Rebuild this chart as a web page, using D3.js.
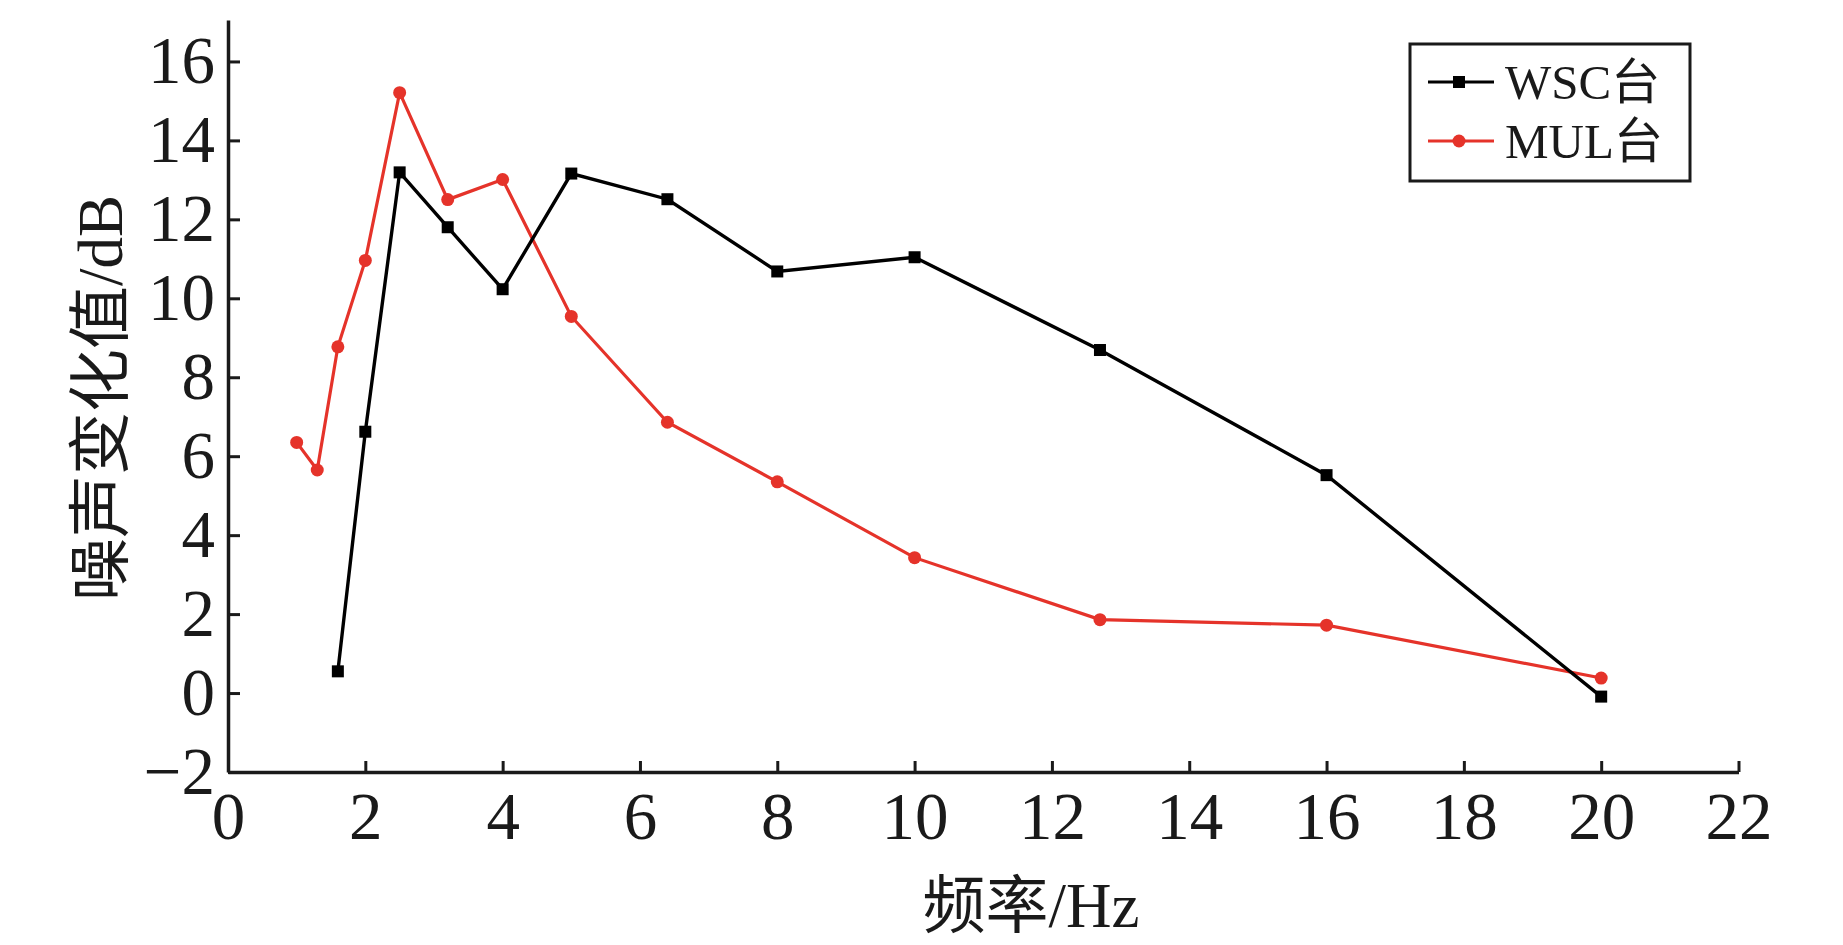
<!DOCTYPE html>
<html><head><meta charset="utf-8">
<script src="https://cdn.jsdelivr.net/npm/d3@7"></script>
<style>
html,body{margin:0;padding:0;background:#fff;}
svg{display:block;}
</style></head>
<body>
<svg id="chart" width="1843" height="945"></svg>
<script>
// ---- data ----
const wscFreq = [1.6, 2, 2.5, 3.2, 4, 5, 6.4, 8, 10, 12.7, 16, 20];
const wscValues = [0.55, 6.62, 13.19, 11.80, 10.23, 13.16, 12.51, 10.68, 11.04, 8.69, 5.52, -0.09];
const mulFreq = [1, 1.3, 1.6, 2, 2.5, 3.2, 4, 5, 6.4, 8, 10, 12.7, 16, 20];
const mulValues = [6.35, 5.65, 8.77, 10.96, 15.21, 12.50, 13.01, 9.54, 6.86, 5.35, 3.43, 1.86, 1.72, 0.38];
const xTicks = [0, 2, 4, 6, 8, 10, 12, 14, 16, 18, 20, 22];
const yTicks = [-2, 0, 2, 4, 6, 8, 10, 12, 14, 16];
const seriesNames = ["WSC台", "MUL台"];
const xTitle = "频率/Hz";
const yTitle = "噪声变化值/dB";

const RED = "#e5332a";
const numFont = "'Liberation Serif','Times New Roman',serif";
const cjkFont = "'Liberation Serif','Noto Sans CJK SC',serif";

const svg = d3.select("#chart");
const x = d3.scaleLinear().domain([0, 22]).range([228, 1738.5]);
const y = d3.scaleLinear().domain([-2, 17.05]).range([772, 20]);

// axes
const xAxis = d3.axisBottom(x).tickValues(xTicks).tickFormat(d3.format("d"))
  .tickSizeInner(-11).tickSizeOuter(0).tickPadding(19);
const yAxis = d3.axisLeft(y).tickValues(yTicks).tickFormat(d => d < 0 ? "\u2212" + Math.abs(d) : d)
  .tickSizeInner(-12).tickSizeOuter(0).tickPadding(13);

const gx = svg.append("g").attr("transform", `translate(0,${y(-2)})`).call(xAxis);
const gy = svg.append("g").attr("transform", `translate(${x(0)},0)`).call(yAxis);
[gx, gy].forEach(g => {
  g.select(".domain").attr("stroke", "#1a1a1a").attr("stroke-width", 3.5);
  g.selectAll(".tick line").attr("stroke", "#1a1a1a").attr("stroke-width", 3);
  g.selectAll(".tick text").attr("fill", "#1a1a1a")
    .style("font-family", numFont).style("font-size", "67px");
});

// titles
svg.append("text").attr("x", 1031).attr("y", 927).attr("text-anchor", "middle")
  .style("font-family", cjkFont).style("font-size", "63px").attr("fill", "#1a1a1a").text(xTitle);
svg.append("text").attr("transform", "translate(122,398) rotate(-90)").attr("text-anchor", "middle")
  .style("font-family", cjkFont).style("font-size", "63px").attr("fill", "#1a1a1a").text(yTitle);

// lines
const wsc = wscFreq.map((f, i) => ({x: f, y: wscValues[i]}));
const mul = mulFreq.map((f, i) => ({x: f, y: mulValues[i]}));
const line = d3.line().x(d => x(d.x)).y(d => y(d.y));

svg.append("path").datum(mul).attr("d", line).attr("fill", "none")
  .attr("stroke", RED).attr("stroke-width", 3.2);
svg.append("path").datum(wsc).attr("d", line).attr("fill", "none")
  .attr("stroke", "#000").attr("stroke-width", 3.4);

svg.append("g").selectAll("circle").data(mul).join("circle")
  .attr("cx", d => x(d.x)).attr("cy", d => y(d.y)).attr("r", 6.5).attr("fill", RED);
const s = 12;
svg.append("g").selectAll("rect").data(wsc).join("rect")
  .attr("x", d => x(d.x) - s / 2).attr("y", d => y(d.y) - s / 2)
  .attr("width", s).attr("height", s).attr("fill", "#000");

// legend
const lg = svg.append("g");
lg.append("rect").attr("x", 1410).attr("y", 44).attr("width", 280).attr("height", 137)
  .attr("fill", "#fff").attr("stroke", "#1a1a1a").attr("stroke-width", 3);
const legendRows = [
  {name: seriesNames[0], color: "#000", shape: "square", cy: 82},
  {name: seriesNames[1], color: RED, shape: "circle", cy: 141}
];
legendRows.forEach(r => {
  lg.append("line").attr("x1", 1428).attr("x2", 1494).attr("y1", r.cy).attr("y2", r.cy)
    .attr("stroke", r.color).attr("stroke-width", 3.2);
  if (r.shape === "square") {
    lg.append("rect").attr("x", 1459 - 6).attr("y", r.cy - 6).attr("width", 12).attr("height", 12).attr("fill", r.color);
  } else {
    lg.append("circle").attr("cx", 1459).attr("cy", r.cy).attr("r", 6.5).attr("fill", r.color);
  }
  lg.append("text").attr("x", 1505).attr("y", r.cy + 17)
    .style("font-family", cjkFont).style("font-size", "49px").attr("fill", "#1a1a1a").text(r.name);
});
</script>
</body></html>
